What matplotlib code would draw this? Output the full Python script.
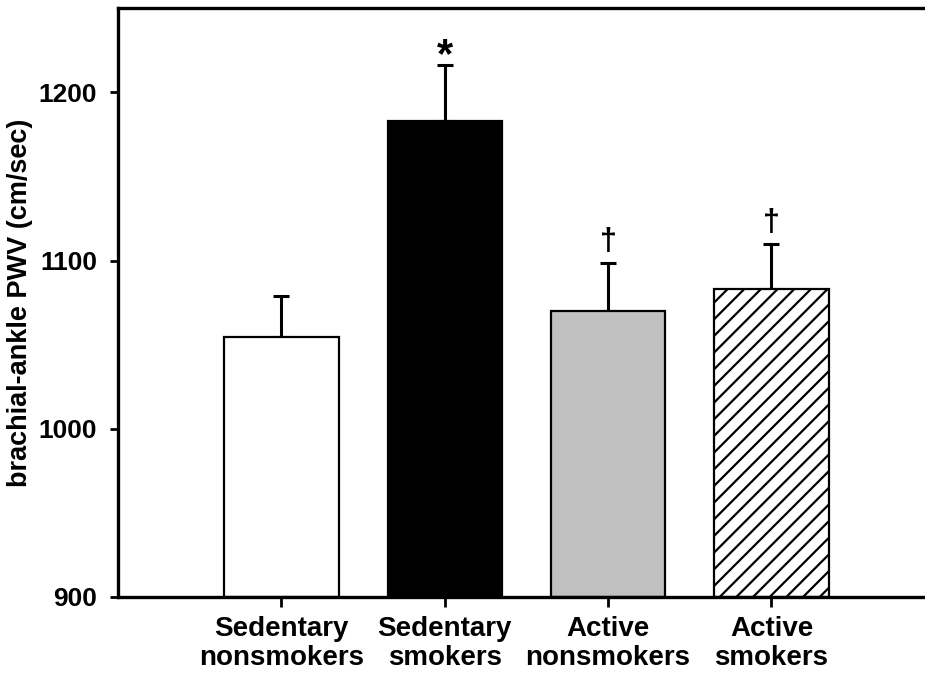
import matplotlib.pyplot as plt
import numpy as np

groups = ["Sedentary\nnonsmokers", "Sedentary\nsmokers", "Active\nnonsmokers", "Active\nsmokers"]
pwv_mean = [1054.7, 1183.0, 1069.9, 1083.4]
pwv_sem = [24.3, 33.5, 28.4, 26.2]
marks = ["", "*", "\u2020", "\u2020"]
yticks = [900, 1000, 1100, 1200]

plt.rcParams['font.family'] = ['Liberation Sans', 'DejaVu Sans']
plt.rcParams['font.weight'] = 'bold'
plt.rcParams['hatch.linewidth'] = 1.6

fig = plt.figure(figsize=(9.25, 6.77), dpi=100)
ax = fig.add_axes([0.1276, 0.1182, 0.8724, 0.8695])

x = np.arange(1, len(groups) + 1)
colors = ["white", "black", "#c0c0c0", "white"]
hatches = [None, None, None, "//"]
for xi, m, c, h in zip(x, pwv_mean, colors, hatches):
    ax.bar(xi, m - 900, bottom=900, width=0.70, color=c, edgecolor="black",
           linewidth=1.6, hatch=h, zorder=2)

ax.errorbar(x, pwv_mean, yerr=[np.zeros(len(x)), pwv_sem], fmt="none",
            ecolor="black", elinewidth=2.2, capsize=6, capthick=2.2, zorder=1)

# significance marks above the error bars
for xi, m, s, t in zip(x, pwv_mean, pwv_sem, marks):
    if not t:
        continue
    if t == "*":
        ax.text(xi, m + s + 5, t, ha="center", va="center", fontsize=30, fontweight="bold")
    else:
        ax.text(xi, m + s + 13, t, ha="center", va="center", fontsize=22, fontweight="bold")

ax.set_xlim(0, 4.94)
ax.set_ylim(900, 1250)
ax.set_yticks(yticks)
ax.set_xticks(x)
ax.set_xticklabels(groups, fontsize=20, fontweight="bold", linespacing=1.12)
ax.tick_params(axis="y", labelsize=19, direction="out", length=6, width=2, pad=9)
ax.tick_params(axis="x", direction="out", length=7, width=2, pad=7)
ax.set_ylabel("brachial-ankle PWV (cm/sec)", fontsize=19.5, fontweight="bold", labelpad=4)

ax.spines["right"].set_visible(False)
for sp in ["left", "top", "bottom"]:
    ax.spines[sp].set_linewidth(2.4)

fig.savefig("out.png", dpi=100)
